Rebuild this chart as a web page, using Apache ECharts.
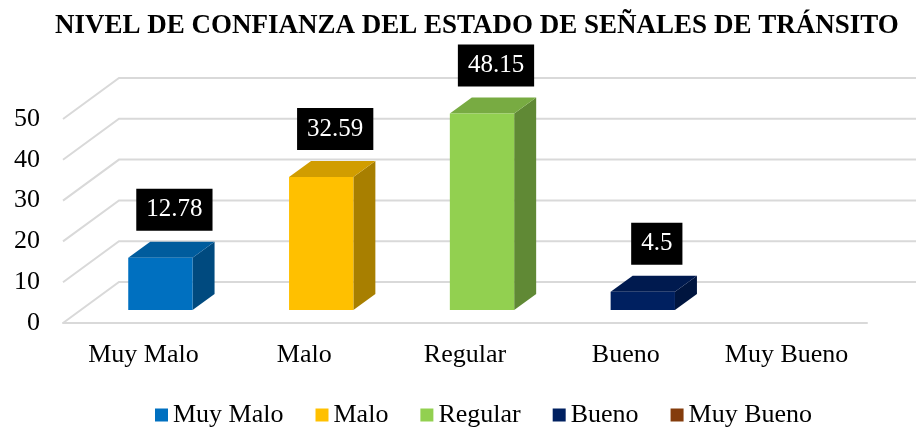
<!DOCTYPE html>
<html>
<head>
<meta charset="utf-8">
<script src="https://cdn.jsdelivr.net/npm/echarts@6/dist/echarts.min.js"></script>
<style>
  html, body { margin: 0; padding: 0; background: #fff; }
  #chart { width: 916px; height: 427px; }
</style>
</head>
<body>
<div id="chart"></div>
<script>
// datos
const categories = ['Muy Malo', 'Malo', 'Regular', 'Bueno', 'Muy Bueno']
const values = [12.78, 32.59, 48.15, 4.5, null]
const yTicks = [0, 10, 20, 30, 40, 50]
const colors = ['#0070C0', '#FFC000', '#92D050', '#002060', '#843C0C']

const FONT = '"Liberation Serif", "Times New Roman", serif'
// profundidad del piso / pared (px) y de cada barra
const WALL_DX = 56, WALL_DY = -41
const BAR_OFF_DX = 17, BAR_OFF_DY = -13
const BAR_DX = 22, BAR_DY = -16

const shade = (hex, k) => {
  const n = parseInt(hex.slice(1), 16)
  const r = Math.round(((n >> 16) & 255) * k)
  const g = Math.round(((n >> 8) & 255) * k)
  const b = Math.round((n & 255) * k)
  return 'rgb(' + r + ',' + g + ',' + b + ')'
}

const chart = echarts.init(document.getElementById('chart'))

// lineas de la pared del fondo (perspectiva)
const wallSeries = {
  type: 'custom',
  name: '_wall',
  silent: true,
  z: 1,
  data: yTicks.map(v => [0, v]),
  renderItem: (params, api) => {
    const cs = params.coordSys
    const y = api.coord([0, api.value(1)])[1]
    return {
      type: 'polyline',
      shape: {
        points: [
          [cs.x, y],
          [cs.x + WALL_DX, y + WALL_DY],
          [cs.x + cs.width + WALL_DX, y + WALL_DY]
        ]
      },
      style: { stroke: '#D9D9D9', lineWidth: 2, fill: null }
    }
  }
}

// barras 3D
const barSeries = categories.map((name, k) => ({
  type: 'custom',
  name: name,
  z: 3,
  itemStyle: { color: colors[k] },
  data: [[k, values[k]]],
  renderItem: (params, api) => {
    const v = api.value(1)
    if (v == null || isNaN(v)) return
    const base = api.coord([api.value(0), 0])
    const top = api.coord([api.value(0), v])
    const bw = api.size([1, 0])[0] * 0.4
    const xl = base[0] + BAR_OFF_DX - bw / 2
    const xr = xl + bw
    const yb = base[1] + BAR_OFF_DY
    const yt = top[1] + BAR_OFF_DY
    const c = colors[k]
    return {
      type: 'group',
      children: [
        {
          type: 'polygon',
          shape: { points: [[xr, yb], [xr + BAR_DX, yb + BAR_DY], [xr + BAR_DX, yt + BAR_DY], [xr, yt]] },
          style: { fill: shade(c, 0.66) }
        },
        {
          type: 'polygon',
          shape: { points: [[xl, yt], [xl + BAR_DX, yt + BAR_DY], [xr + BAR_DX, yt + BAR_DY], [xr, yt]] },
          style: { fill: shade(c, 0.82) }
        },
        {
          type: 'rect',
          shape: { x: xl, y: yt, width: bw, height: yb - yt },
          style: { fill: c }
        },
        {
          type: 'text',
          x: base[0] + 31,
          y: yt - 48,
          style: {
            text: String(v),
            fill: '#fff',
            backgroundColor: '#000',
            padding: [9, 10, 8, 10],
            font: '25px ' + FONT,
            align: 'center',
            verticalAlign: 'middle'
          }
        }
      ]
    }
  }
}))

const option = {
  animation: false,
  title: {
    text: 'NIVEL DE CONFIANZA DEL ESTADO DE SEÑALES DE TRÁNSITO',
    left: 50,
    top: 8,
    textStyle: { fontFamily: FONT, fontSize: 27, fontWeight: 'bold', color: '#000' }
  },
  legend: {
    data: categories,
    top: 397,
    left: 150,
    icon: 'rect',
    itemWidth: 13,
    itemHeight: 13,
    itemGap: 32,
    textStyle: { fontFamily: FONT, fontSize: 26, color: '#000' }
  },
  grid: { left: 63, right: 49, top: 119, bottom: 104 },
  xAxis: {
    type: 'category',
    data: categories,
    axisTick: { show: false },
    axisLine: { lineStyle: { color: '#D9D9D9', width: 2 } },
    axisLabel: { fontFamily: FONT, fontSize: 26, color: '#000', margin: 19 }
  },
  yAxis: {
    type: 'value',
    min: 0,
    max: 50,
    interval: 10,
    axisLine: { show: false },
    axisTick: { show: false },
    splitLine: { show: false },
    axisLabel: { fontFamily: FONT, fontSize: 26, color: '#000', margin: 23 }
  },
  series: [wallSeries].concat(barSeries)
}

chart.setOption(option)
</script>
</body>
</html>
